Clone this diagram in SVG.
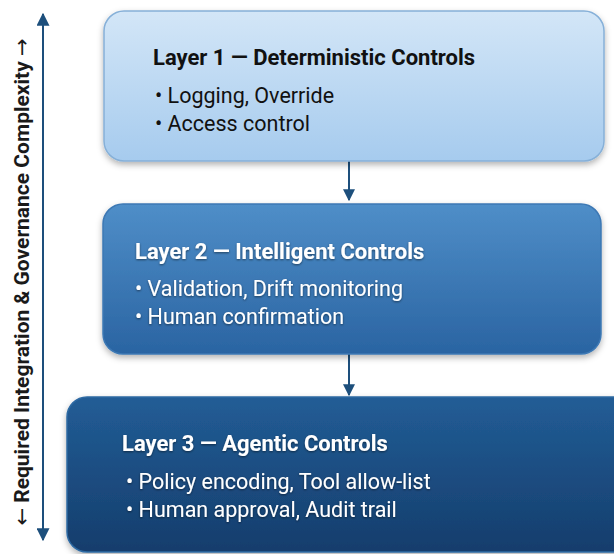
<svg xmlns="http://www.w3.org/2000/svg" width="614" height="554" viewBox="0 0 614 554">
<defs>
<linearGradient id="g1" x1="0" y1="0" x2="0" y2="1"><stop offset="0" stop-color="#d3e6f7"/><stop offset="1" stop-color="#a6cbee"/></linearGradient>
<linearGradient id="g2" x1="0" y1="0" x2="0" y2="1"><stop offset="0" stop-color="#4f8ec8"/><stop offset="1" stop-color="#2a64a2"/></linearGradient>
<linearGradient id="g3" x1="0" y1="0" x2="0" y2="1"><stop offset="0" stop-color="#225d96"/><stop offset="1" stop-color="#153d6c"/></linearGradient>
<filter id="sh" x="-10%" y="-10%" width="120%" height="130%"><feDropShadow dx="0" dy="3" stdDeviation="3" flood-color="#000" flood-opacity="0.3"/></filter>
<filter id="ts" x="-5%" y="-20%" width="110%" height="150%"><feDropShadow dx="0" dy="1" stdDeviation="1" flood-color="#000" flood-opacity="0.5"/></filter>
<marker id="ah" viewBox="0 0 10 10" refX="9" refY="5" markerWidth="6.5" markerHeight="6.5" orient="auto-start-reverse"><path d="M0,0 L10,5 L0,10 z" fill="#1d4f7c"/></marker>
<marker id="ah2" viewBox="0 0 10 10" refX="9" refY="5" markerWidth="6" markerHeight="6" orient="auto"><path d="M0,0 L10,5 L0,10 z" fill="#1d4f7c"/></marker>
</defs>
<style>
text{font-family:Roboto,"Liberation Sans",sans-serif}
.t{font-weight:bold;font-size:22px}
.b{font-size:21.5px}
.dk{fill:#111}
.lt{fill:#fff}
.ln{stroke:#1d4f7c;stroke-width:2;fill:none}
.ar{font-family:"DejaVu Sans",sans-serif;font-weight:normal}
</style>
<rect width="614" height="554" fill="#ffffff"/>
<g id="connectors">
<line class="ln" x1="43" y1="540" x2="43" y2="14" marker-start="url(#ah)" marker-end="url(#ah)"/>
<line class="ln" x1="349" y1="161" x2="349" y2="200" marker-end="url(#ah2)"/>
<line class="ln" x1="349" y1="354" x2="349" y2="395" marker-end="url(#ah2)"/>
</g>
<g id="axis-label">
<text transform="translate(29,282) rotate(-90)" text-anchor="middle" font-weight="bold" font-size="21" fill="#1a1a1a"><tspan class="ar">←</tspan> Required Integration &amp; Governance Complexity <tspan class="ar">→</tspan></text>
</g>
<g id="layer1">
<rect x="104" y="11" width="500" height="150" rx="20" fill="url(#g1)" stroke="#86b0d8" stroke-width="1.5" filter="url(#sh)"/>
<text class="t dk" x="153" y="65">Layer 1 — Deterministic Controls</text>
<text class="b dk" x="155" y="103">• Logging, Override</text>
<text class="b dk" x="155" y="131">• Access control</text>
</g>
<g id="layer2">
<rect x="103" y="204" width="498" height="150" rx="20" fill="url(#g2)" stroke="#3c78b4" stroke-width="1.5" filter="url(#sh)"/>
<g filter="url(#ts)">
<text class="t lt" x="135" y="259">Layer 2 — Intelligent Controls</text>
<text class="b lt" x="135" y="296">• Validation, Drift monitoring</text>
<text class="b lt" x="135" y="324">• Human confirmation</text>
</g>
</g>
<g id="layer3">
<rect x="67" y="397" width="570" height="155" rx="20" fill="url(#g3)" stroke="#2d6aa3" stroke-width="1.5" filter="url(#sh)"/>
<g filter="url(#ts)">
<text class="t lt" x="122" y="451">Layer 3 — Agentic Controls</text>
<text class="b lt" x="126" y="489">• Policy encoding, Tool allow-list</text>
<text class="b lt" x="126" y="517">• Human approval, Audit trail</text>
</g>
</g>
</svg>
